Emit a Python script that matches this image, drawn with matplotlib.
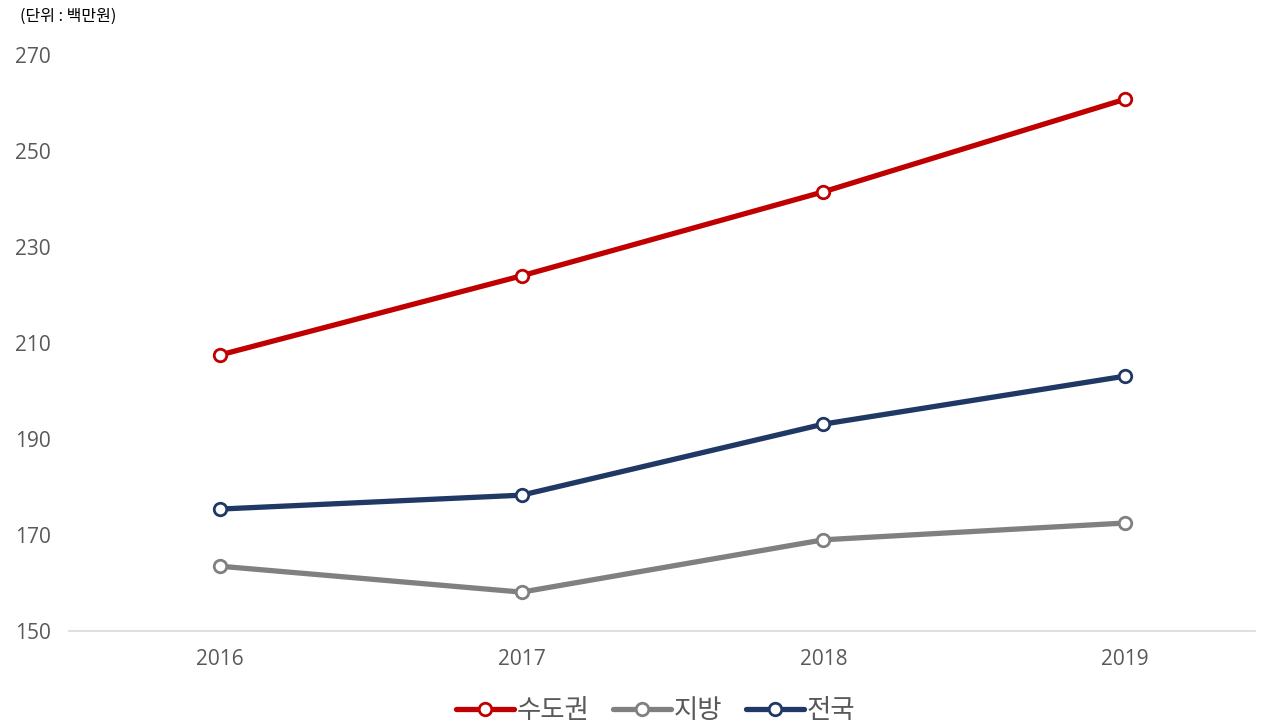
import matplotlib
matplotlib.use("Agg")
import matplotlib.pyplot as plt

plt.rcParams['font.family'] = ['Noto Sans CJK KR', 'DejaVu Sans']

years = ["2016", "2017", "2018", "2019"]
metro = [207.5, 224.0, 241.5, 260.8]     # 수도권
local = [163.5, 158.1, 169.0, 172.5]     # 지방
nation = [175.4, 178.3, 193.1, 203.1]    # 전국
yticks = [150, 170, 190, 210, 230, 250, 270]

series = [
    ("수도권", metro, "#C00000"),
    ("지방", local, "#808080"),
    ("전국", nation, "#1F3864"),
]

fig = plt.figure(figsize=(12.65, 7.27), dpi=100)
ax = fig.add_axes([69 / 1265, 1 - 631 / 727, (1255 - 69) / 1265, (631 - 55) / 727])

x = list(range(len(years)))
for name, vals, col in series:
    ax.plot(x, vals, "-o", color=col, lw=3.8, ms=9, mfc="white", mec=col,
            mew=2, label=name, solid_capstyle="round")

ax.set_ylim(150, 270)
ax.set_xlim(-0.5, 3.43)
ax.set_yticks(yticks)
ax.set_xticks(x)
ax.set_xticklabels(years)
ax.tick_params(length=0, labelsize=15, labelcolor="#595959")
ax.tick_params(axis="y", pad=13)
ax.tick_params(axis="x", pad=13)
for lab in ax.get_yticklabels() + ax.get_xticklabels():
    lab.set_family(["Open Sans", "DejaVu Sans"])
for s in ["top", "right", "left"]:
    ax.spines[s].set_visible(False)
ax.spines["bottom"].set_color("#D9D9D9")
ax.spines["bottom"].set_linewidth(1.2)

fig.text(20 / 1265, 1 - 16 / 727, "(단위 : 백만원)", fontsize=11.5, color="#000000",
         va="center", ha="left")

leg = fig.legend(loc="center", bbox_to_anchor=(0.518, 1 - 711 / 727), ncol=3,
                 frameon=False, fontsize=19, handlelength=2.2, columnspacing=0.9,
                 handletextpad=0.1, labelcolor="#595959")

fig.savefig("out.png", dpi=100)
